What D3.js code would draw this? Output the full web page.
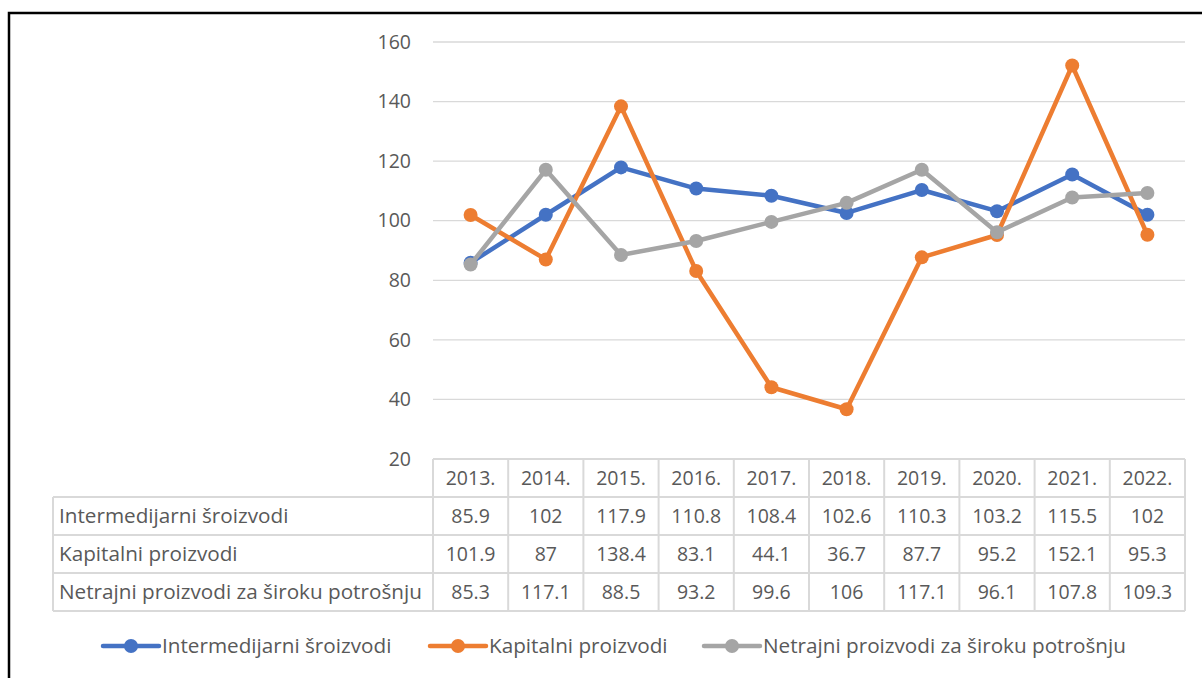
<!DOCTYPE html>
<html>
<head>
<meta charset="utf-8">
<script src="https://cdn.jsdelivr.net/npm/d3@7"></script>
<style>
  body { margin: 0; background: #fff; }
  svg text { font-family: "Open Sans", Arial, sans-serif; fill: #595959; }
</style>
</head>
<body>
<svg id="chart" width="1202" height="678"></svg>
<script>
const years = ["2013.", "2014.", "2015.", "2016.", "2017.", "2018.", "2019.", "2020.", "2021.", "2022."];
const seriesNames = ["Intermedijarni šroizvodi", "Kapitalni proizvodi", "Netrajni proizvodi za široku potrošnju"];
const intermedijarni = [85.9, 102, 117.9, 110.8, 108.4, 102.6, 110.3, 103.2, 115.5, 102];
const kapitalni = [101.9, 87, 138.4, 83.1, 44.1, 36.7, 87.7, 95.2, 152.1, 95.3];
const netrajni = [85.3, 117.1, 88.5, 93.2, 99.6, 106, 117.1, 96.1, 107.8, 109.3];
const yTicks = [20, 40, 60, 80, 100, 120, 140, 160];
const colors = ["#4472C4", "#ED7D31", "#A5A5A5"];

const fontSize = "19.5px";
const labelFont = "20.7px";

const series = [intermedijarni, kapitalni, netrajni].map((values, i) => ({
  name: seriesNames[i],
  color: colors[i],
  values,
}));

const svg = d3.select("#chart");

// outer frame
svg.append("rect")
  .attr("x", 9).attr("y", 13)
  .attr("width", 1210).attr("height", 700)
  .attr("fill", "none").attr("stroke", "#000").attr("stroke-width", 2.5);

const x = d3.scaleBand().domain(years).range([433, 1185]);
const y = d3.scaleLinear().domain([20, 160]).range([459, 42]);

// gridlines
svg.append("g")
  .selectAll("line")
  .data(yTicks.slice(1))
  .enter()
  .append("line")
  .attr("x1", 433).attr("x2", 1185)
  .attr("y1", (d) => y(d)).attr("y2", (d) => y(d))
  .attr("stroke", "#d9d9d9").attr("stroke-width", 1.3);

// y axis labels
const yAxis = svg.append("g")
  .attr("transform", "translate(411,0)")
  .call(d3.axisLeft(y).tickValues(yTicks).tickSize(0).tickPadding(0));
yAxis.select(".domain").remove();
yAxis.selectAll("text")
  .style("font-size", fontSize)
  .style("font-family", "'Open Sans', Arial, sans-serif")
  .attr("fill", "#595959");

// lines and markers
const line = d3.line()
  .x((d, i) => x(years[i]) + x.bandwidth() / 2)
  .y((d) => y(d));

series.forEach((s) => {
  svg.append("path")
    .datum(s.values)
    .attr("d", line)
    .attr("fill", "none")
    .attr("stroke", s.color)
    .attr("stroke-width", 4.5)
    .attr("stroke-linejoin", "round");

  svg.append("g")
    .selectAll("circle")
    .data(s.values)
    .enter()
    .append("circle")
    .attr("r", 7)
    .attr("cx", (d, i) => x(years[i]) + x.bandwidth() / 2)
    .attr("cy", (d) => y(d))
    .attr("fill", s.color);
});

// data table
const rowH = 38;
const tableTop = 459;
const labelLeft = 53;
const gridColor = "#d9d9d9";
const table = svg.append("g");

// horizontal lines
table.append("line")
  .attr("x1", 433).attr("x2", 1185)
  .attr("y1", tableTop).attr("y2", tableTop)
  .attr("stroke", gridColor).attr("stroke-width", 2);
d3.range(1, 5).forEach((r) => {
  table.append("line")
    .attr("x1", labelLeft).attr("x2", 1185)
    .attr("y1", tableTop + r * rowH).attr("y2", tableTop + r * rowH)
    .attr("stroke", gridColor).attr("stroke-width", 2);
});

// vertical lines
table.append("line")
  .attr("x1", labelLeft).attr("x2", labelLeft)
  .attr("y1", tableTop + rowH).attr("y2", tableTop + 4 * rowH)
  .attr("stroke", gridColor).attr("stroke-width", 2);
years.concat(["end"]).forEach((yr, i) => {
  const xx = i < years.length ? x(yr) : x.range()[1];
  table.append("line")
    .attr("x1", xx).attr("x2", xx)
    .attr("y1", tableTop).attr("y2", tableTop + 4 * rowH)
    .attr("stroke", gridColor).attr("stroke-width", 2);
});

// header row
table.selectAll("text.year")
  .data(years)
  .enter()
  .append("text")
  .attr("class", "year")
  .attr("x", (d) => x(d) + x.bandwidth() / 2)
  .attr("y", tableTop + rowH / 2 + 7)
  .attr("text-anchor", "middle")
  .style("font-size", fontSize)
  .text((d) => d);

// series rows
series.forEach((s, r) => {
  const cy = tableTop + (r + 1) * rowH + rowH / 2 + 7;
  table.append("text")
    .attr("x", labelLeft + 6)
    .attr("y", cy)
    .style("font-size", labelFont)
    .text(s.name);
  table.selectAll(null)
    .data(s.values)
    .enter()
    .append("text")
    .attr("x", (d, i) => x(years[i]) + x.bandwidth() / 2)
    .attr("y", cy)
    .attr("text-anchor", "middle")
    .style("font-size", fontSize)
    .text((d) => d);
});

// legend
const legendX = [103, 430, 704];
const legend = svg.append("g");
series.forEach((s, i) => {
  const lx = legendX[i];
  const ly = 646;
  legend.append("line")
    .attr("x1", lx).attr("x2", lx + 56)
    .attr("y1", ly).attr("y2", ly)
    .attr("stroke", s.color).attr("stroke-width", 4.5)
    .attr("stroke-linecap", "round");
  legend.append("circle")
    .attr("cx", lx + 28).attr("cy", ly).attr("r", 7)
    .attr("fill", s.color);
  legend.append("text")
    .attr("x", lx + 59)
    .attr("y", ly + 7)
    .style("font-size", labelFont)
    .text(s.name);
});
</script>
</body>
</html>
